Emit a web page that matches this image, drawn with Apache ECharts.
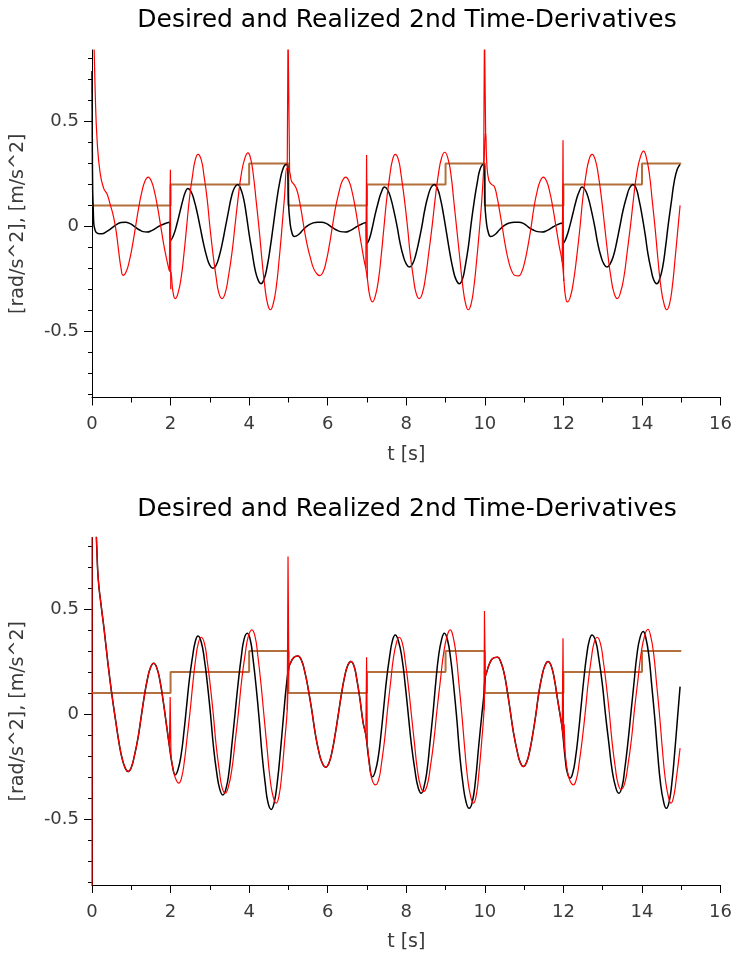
<!DOCTYPE html>
<html><head><meta charset="utf-8">
<script src="https://cdn.jsdelivr.net/npm/echarts@6/dist/echarts.min.js"></script>
<style>html,body{margin:0;padding:0;background:#fff}#c{width:735px;height:958px}</style>
</head><body><div id="c"></div>
<script>
const titleText = 'Desired and Realized 2nd Time-Derivatives';
const xName = 't [s]';
const yName = '[rad/s^2], [m/s^2]';
const xMin = 0, xMax = 16, xStep = 2;
const yMin = -0.815, yMax = 0.84;
const yMajorTicks = [-0.5, 0, 0.5];
const yMinorTicks = [-0.8,-0.7,-0.6,-0.4,-0.3,-0.2,-0.1,0.1,0.2,0.3,0.4,0.6,0.7,0.8];

// desired (step) values, held until next time
const desiredSteps = [[0,0.1],[2,0.2],[4,0.3],[5,0.1],[7,0.2],[9,0.3],[10,0.1],[12,0.2],[14,0.3],[15,0.3]];

// ---- top chart ----
const topBlack = [[0.01,0.3],[0.04,0.03],[0.08,-0.02],[0.15,-0.034],[0.25,-0.035],[0.37,-0.025],[0.5,-0.008],[0.62,0.008],[0.74,0.018],[0.85,0.02],[0.97,0.013],[1.09,-0.002],[1.2,-0.016],[1.3,-0.025],[1.4,-0.027],[1.52,-0.02],[1.64,-0.007],[1.76,0.006],[1.88,0.015],[1.97,0.02],
[2.0,-0.067],[2.08,-0.04],[2.16,0.01],[2.24,0.07],[2.32,0.13],[2.38,0.165],[2.44,0.18],[2.52,0.166],[2.6,0.124],[2.68,0.063],[2.76,-0.01],[2.84,-0.083],[2.92,-0.144],[3.0,-0.186],[3.08,-0.2],[3.16,-0.185],[3.24,-0.141],[3.32,-0.077],[3.4,0],[3.48,0.077],[3.55,0.141],[3.63,0.185],[3.71,0.2],[3.78,0.182],[3.86,0.131],[3.93,0.054],[4.0,-0.037],[4.08,-0.128],[4.15,-0.205],[4.23,-0.256],[4.3,-0.273],[4.38,-0.251],[4.46,-0.19],[4.54,-0.098],[4.62,0.011],[4.7,0.12],[4.78,0.212],[4.86,0.273],[4.94,0.295],[4.98,0.29],
[5.0,0.12],[5.04,0.02],[5.09,-0.03],[5.15,-0.048],[5.25,-0.04],[5.38,-0.015],[5.5,0.005],[5.62,0.016],[5.74,0.02],[5.85,0.02],[5.97,0.013],[6.09,-0.002],[6.21,-0.016],[6.33,-0.025],[6.45,-0.027],[6.57,-0.02],[6.69,-0.007],[6.81,0.006],[6.97,0.018],
[7.0,-0.08],[7.06,-0.06],[7.13,-0.01],[7.2,0.05],[7.28,0.11],[7.36,0.16],[7.45,0.187],[7.53,0.172],[7.61,0.131],[7.69,0.069],[7.77,-0.004],[7.84,-0.077],[7.92,-0.139],[8.0,-0.179],[8.08,-0.194],[8.16,-0.179],[8.24,-0.136],[8.32,-0.072],[8.4,0.003],[8.47,0.078],[8.55,0.142],[8.63,0.185],[8.71,0.2],[8.79,0.182],[8.87,0.131],[8.95,0.054],[9.03,-0.037],[9.11,-0.128],[9.19,-0.204],[9.27,-0.255],[9.35,-0.273],[9.43,-0.251],[9.5,-0.19],[9.58,-0.098],[9.65,0.011],[9.73,0.12],[9.81,0.212],[9.88,0.273],[9.96,0.295],[9.99,0.29],
[10.0,0.12],[10.04,0.02],[10.09,-0.03],[10.15,-0.048],[10.25,-0.04],[10.38,-0.015],[10.5,0.005],[10.62,0.016],[10.75,0.02],[10.87,0.02],[10.99,0.013],[11.1,-0.002],[11.22,-0.016],[11.34,-0.025],[11.46,-0.027],[11.58,-0.02],[11.7,-0.007],[11.82,0.006],[11.97,0.016],
[12.0,-0.08],[12.08,-0.05],[12.16,0.0],[12.24,0.06],[12.32,0.12],[12.4,0.165],[12.48,0.187],[12.56,0.172],[12.64,0.131],[12.72,0.069],[12.8,-0.004],[12.87,-0.077],[12.95,-0.139],[13.03,-0.179],[13.11,-0.194],[13.19,-0.179],[13.28,-0.136],[13.36,-0.072],[13.44,0.003],[13.52,0.078],[13.61,0.142],[13.69,0.185],[13.77,0.2],[13.85,0.182],[13.92,0.131],[14.0,0.054],[14.08,-0.037],[14.15,-0.128],[14.23,-0.204],[14.3,-0.255],[14.38,-0.273],[14.45,-0.251],[14.53,-0.19],[14.6,-0.098],[14.67,0.011],[14.75,0.12],[14.82,0.212],[14.9,0.273],[14.97,0.295]];
const topBlackSpikes = [[[0,0.74],[0.01,0.3]]];

const topRed = [[0.04,0.95],[0.08,0.65],[0.13,0.41],[0.21,0.25],[0.3,0.18],[0.38,0.155],[0.47,0.1],[0.55,0.044],[0.62,-0.03],[0.68,-0.12],[0.74,-0.2],[0.79,-0.233],[0.87,-0.216],[0.95,-0.165],[1.03,-0.09],[1.11,0],[1.19,0.09],[1.27,0.165],[1.35,0.216],[1.43,0.235],[1.51,0.216],[1.59,0.165],[1.67,0.09],[1.75,0],[1.83,-0.09],[1.91,-0.165],[1.97,-0.21],
[2.01,-0.22],[2.06,-0.31],[2.12,-0.344],[2.19,-0.318],[2.27,-0.243],[2.34,-0.132],[2.41,0],[2.48,0.132],[2.56,0.243],[2.63,0.318],[2.7,0.343],[2.78,0.318],[2.85,0.243],[2.93,0.132],[3.0,0],[3.08,-0.132],[3.16,-0.243],[3.23,-0.318],[3.31,-0.344],[3.39,-0.318],[3.47,-0.242],[3.56,-0.13],[3.64,0.003],[3.72,0.136],[3.8,0.248],[3.89,0.324],[3.97,0.35],[4.04,0.321],[4.11,0.24],[4.18,0.119],[4.26,-0.024],[4.33,-0.166],[4.4,-0.287],[4.47,-0.369],[4.54,-0.397],[4.61,-0.371],[4.69,-0.289],[4.76,-0.165],[4.83,-0.02],[4.9,0.14],[4.97,0.28],
[5.03,0.26],[5.08,0.215],[5.14,0.2],[5.2,0.18],[5.26,0.14],[5.33,0.07],[5.4,-0.01],[5.48,-0.09],[5.56,-0.15],[5.64,-0.2],[5.72,-0.225],[5.8,-0.235],[5.88,-0.218],[5.96,-0.168],[6.04,-0.092],[6.12,0],[6.2,0.09],[6.29,0.165],[6.37,0.216],[6.46,0.235],[6.54,0.216],[6.62,0.165],[6.7,0.09],[6.78,0],[6.86,-0.09],[6.93,-0.165],[6.97,-0.2],
[7.01,-0.25],[7.07,-0.33],[7.14,-0.36],[7.21,-0.333],[7.29,-0.257],[7.36,-0.143],[7.43,-0.008],[7.5,0.127],[7.58,0.241],[7.65,0.317],[7.72,0.343],[7.8,0.318],[7.87,0.243],[7.95,0.132],[8.03,0],[8.1,-0.132],[8.18,-0.243],[8.25,-0.318],[8.33,-0.344],[8.41,-0.318],[8.49,-0.242],[8.57,-0.129],[8.66,0.005],[8.74,0.138],[8.82,0.251],[8.9,0.327],[8.98,0.353],[9.06,0.324],[9.14,0.243],[9.21,0.121],[9.29,-0.022],[9.37,-0.165],[9.44,-0.287],[9.51,-0.368],[9.58,-0.397],[9.65,-0.37],[9.72,-0.29],[9.79,-0.165],[9.86,-0.02],[9.92,0.12],[9.97,0.27],
[10.02,0.45],[10.05,0.3],[10.1,0.22],[10.17,0.2],[10.24,0.19],[10.3,0.15],[10.37,0.08],[10.45,-0.01],[10.53,-0.1],[10.61,-0.17],[10.69,-0.215],[10.77,-0.234],[10.86,-0.236],[10.94,-0.216],[11.02,-0.165],[11.1,-0.09],[11.18,0],[11.25,0.09],[11.33,0.165],[11.41,0.216],[11.49,0.235],[11.57,0.216],[11.65,0.165],[11.73,0.09],[11.81,0],[11.89,-0.09],[11.97,-0.17],
[12.01,-0.25],[12.05,-0.33],[12.1,-0.36],[12.18,-0.333],[12.26,-0.257],[12.34,-0.143],[12.42,-0.008],[12.49,0.127],[12.57,0.24],[12.65,0.316],[12.73,0.343],[12.81,0.318],[12.89,0.243],[12.97,0.132],[13.05,0],[13.13,-0.132],[13.21,-0.243],[13.29,-0.318],[13.37,-0.344],[13.45,-0.317],[13.54,-0.241],[13.62,-0.127],[13.71,0.007],[13.79,0.141],[13.87,0.255],[13.96,0.331],[14.04,0.358],[14.11,0.329],[14.19,0.247],[14.26,0.125],[14.34,-0.02],[14.41,-0.164],[14.48,-0.286],[14.56,-0.368],[14.63,-0.397],[14.7,-0.37],[14.77,-0.29],[14.84,-0.16],[14.91,-0.02],[14.97,0.1]];
const topRedSpikes = [
  [[1.97,-0.21],[1.995,0.27],[2.005,-0.3],[2.01,-0.22]],
  [[4.97,0.28],[4.99,0.95],[5.01,0.95],[5.03,0.26]],
  [[6.97,-0.2],[6.99,0.34],[7.01,-0.25]],
  [[9.97,0.27],[9.99,0.95],[10.01,0.95],[10.02,0.45]],
  [[11.97,-0.17],[11.99,0.41],[12.005,-0.26],[12.01,-0.25]]
];

// ---- bottom chart ----
const bottomBlack = [[0.09,0.95],[0.12,0.8],[0.16,0.64],[0.23,0.52],[0.31,0.4],[0.4,0.25],[0.5,0.1],[0.6,-0.03],[0.69,-0.14],[0.77,-0.215],[0.85,-0.26],[0.92,-0.275],[1.0,-0.255],[1.08,-0.199],[1.17,-0.116],[1.25,-0.017],[1.33,0.082],[1.41,0.165],[1.49,0.221],[1.57,0.241],[1.65,0.219],[1.73,0.157],[1.81,0.064],[1.89,-0.045],[1.97,-0.154],
[2.05,-0.25],[2.12,-0.29],[2.19,-0.265],[2.27,-0.193],[2.34,-0.086],[2.41,0.04],[2.48,0.166],[2.56,0.273],[2.63,0.345],[2.7,0.371],[2.78,0.342],[2.86,0.26],[2.94,0.138],[3.02,-0.008],[3.09,-0.152],[3.17,-0.274],[3.25,-0.357],[3.33,-0.386],[3.41,-0.357],[3.49,-0.273],[3.56,-0.148],[3.64,-0.001],[3.72,0.146],[3.8,0.271],[3.87,0.355],[3.95,0.384],[4.03,0.352],[4.1,0.261],[4.18,0.125],[4.26,-0.036],[4.33,-0.196],[4.41,-0.332],[4.48,-0.423],[4.56,-0.455],[4.64,-0.42],[4.72,-0.32],[4.8,-0.17],[4.88,0],[4.95,0.14],[5.01,0.22],
[5.06,0.245],[5.12,0.265],[5.18,0.274],[5.24,0.276],[5.33,0.256],[5.42,0.198],[5.51,0.112],[5.6,0.011],[5.68,-0.09],[5.77,-0.176],[5.86,-0.234],[5.95,-0.254],[6.03,-0.235],[6.11,-0.18],[6.19,-0.098],[6.27,-0.002],[6.35,0.094],[6.43,0.176],[6.51,0.231],[6.59,0.25],[6.67,0.228],[6.74,0.165],[6.82,0.071],[6.9,-0.04],[6.97,-0.1],
[7.05,-0.22],[7.14,-0.3],[7.21,-0.274],[7.29,-0.201],[7.36,-0.091],[7.43,0.038],[7.5,0.167],[7.58,0.277],[7.65,0.35],[7.72,0.376],[7.8,0.347],[7.89,0.266],[7.97,0.143],[8.05,-0.001],[8.13,-0.145],[8.22,-0.268],[8.3,-0.349],[8.38,-0.378],[8.45,-0.349],[8.53,-0.267],[8.6,-0.143],[8.68,0.003],[8.75,0.149],[8.82,0.272],[8.9,0.355],[8.97,0.384],[9.05,0.352],[9.13,0.262],[9.21,0.127],[9.29,-0.033],[9.36,-0.193],[9.44,-0.328],[9.52,-0.418],[9.6,-0.45],[9.68,-0.42],[9.76,-0.32],[9.84,-0.16],[9.92,-0.01],[9.97,0.08],[10.01,0.175],
[10.05,0.2],[10.1,0.23],[10.17,0.258],[10.24,0.268],[10.32,0.27],[10.4,0.25],[10.49,0.194],[10.57,0.109],[10.65,0.01],[10.73,-0.09],[10.82,-0.175],[10.9,-0.231],[10.98,-0.251],[11.06,-0.232],[11.14,-0.178],[11.22,-0.097],[11.3,-0.001],[11.37,0.095],[11.45,0.176],[11.53,0.23],[11.61,0.249],[11.69,0.228],[11.77,0.165],[11.85,0.07],[11.92,-0.01],[11.97,-0.07],
[12.05,-0.22],[12.1,-0.28],[12.17,-0.306],[12.24,-0.28],[12.31,-0.206],[12.38,-0.096],[12.45,0.035],[12.52,0.166],[12.59,0.276],[12.66,0.35],[12.73,0.376],[12.82,0.347],[12.9,0.266],[12.99,0.143],[13.07,-0.001],[13.16,-0.145],[13.24,-0.268],[13.33,-0.349],[13.41,-0.378],[13.49,-0.349],[13.56,-0.265],[13.64,-0.14],[13.72,0.007],[13.8,0.154],[13.87,0.279],[13.95,0.363],[14.03,0.392],[14.1,0.36],[14.18,0.269],[14.25,0.132],[14.33,-0.029],[14.4,-0.19],[14.47,-0.327],[14.55,-0.418],[14.62,-0.45],[14.69,-0.42],[14.76,-0.33],[14.83,-0.19],[14.9,-0.03],[14.97,0.13]];

const bottomRed = [[0.09,0.95],[0.12,0.8],[0.16,0.64],[0.23,0.52],[0.31,0.4],[0.4,0.25],[0.5,0.1],[0.6,-0.03],[0.69,-0.14],[0.77,-0.215],[0.85,-0.26],[0.92,-0.275],[1.0,-0.255],[1.08,-0.199],[1.17,-0.116],[1.25,-0.017],[1.33,0.082],[1.41,0.165],[1.49,0.221],[1.57,0.241],[1.65,0.219],[1.73,0.157],[1.81,0.064],[1.89,-0.045],[1.97,-0.15],
[2.01,-0.2],[2.06,-0.26],[2.13,-0.309],[2.21,-0.33],[2.28,-0.304],[2.35,-0.228],[2.42,-0.115],[2.5,0.018],[2.57,0.15],[2.64,0.263],[2.71,0.339],[2.78,0.365],[2.86,0.337],[2.93,0.256],[3.01,0.136],[3.09,-0.007],[3.16,-0.149],[3.24,-0.269],[3.31,-0.35],[3.39,-0.378],[3.47,-0.348],[3.56,-0.264],[3.64,-0.138],[3.73,0.011],[3.81,0.16],[3.9,0.286],[3.98,0.37],[4.07,0.4],[4.15,0.369],[4.22,0.279],[4.3,0.145],[4.38,-0.013],[4.46,-0.17],[4.53,-0.304],[4.61,-0.394],[4.69,-0.425],[4.76,-0.39],[4.83,-0.29],[4.9,-0.14],[4.97,0.02],
[5.01,0.22],[5.06,0.245],[5.12,0.265],[5.18,0.274],[5.24,0.276],[5.33,0.256],[5.42,0.198],[5.51,0.112],[5.6,0.011],[5.68,-0.09],[5.77,-0.176],[5.86,-0.234],[5.95,-0.254],[6.03,-0.235],[6.11,-0.18],[6.19,-0.098],[6.27,-0.002],[6.35,0.094],[6.43,0.176],[6.51,0.231],[6.59,0.25],[6.67,0.228],[6.74,0.165],[6.82,0.071],[6.9,-0.04],[6.97,-0.1],
[7.01,-0.15],[7.08,-0.27],[7.15,-0.325],[7.22,-0.338],[7.3,-0.311],[7.37,-0.235],[7.45,-0.121],[7.52,0.014],[7.6,0.148],[7.67,0.262],[7.75,0.338],[7.82,0.365],[7.9,0.337],[7.97,0.257],[8.05,0.138],[8.13,-0.003],[8.21,-0.143],[8.28,-0.262],[8.36,-0.342],[8.44,-0.37],[8.53,-0.341],[8.61,-0.257],[8.7,-0.132],[8.78,0.015],[8.87,0.162],[8.95,0.287],[9.04,0.371],[9.12,0.4],[9.19,0.369],[9.27,0.279],[9.34,0.145],[9.42,-0.013],[9.49,-0.17],[9.56,-0.304],[9.64,-0.394],[9.71,-0.425],[9.78,-0.39],[9.85,-0.28],[9.92,-0.13],[9.98,0.02],
[10.01,0.175],[10.05,0.2],[10.1,0.23],[10.17,0.258],[10.24,0.268],[10.32,0.27],[10.4,0.25],[10.49,0.194],[10.57,0.109],[10.65,0.01],[10.73,-0.09],[10.82,-0.175],[10.9,-0.231],[10.98,-0.251],[11.06,-0.232],[11.14,-0.178],[11.22,-0.097],[11.3,-0.001],[11.37,0.095],[11.45,0.176],[11.53,0.23],[11.61,0.249],[11.69,0.228],[11.77,0.165],[11.85,0.07],[11.92,-0.01],[11.97,-0.07],
[12.04,-0.18],[12.1,-0.27],[12.17,-0.32],[12.25,-0.338],[12.33,-0.311],[12.4,-0.235],[12.48,-0.121],[12.56,0.014],[12.63,0.148],[12.71,0.262],[12.78,0.338],[12.86,0.365],[12.94,0.337],[13.01,0.259],[13.09,0.141],[13.17,0.003],[13.24,-0.136],[13.32,-0.254],[13.39,-0.332],[13.47,-0.36],[13.56,-0.331],[13.64,-0.248],[13.73,-0.124],[13.81,0.022],[13.9,0.167],[13.98,0.291],[14.07,0.374],[14.15,0.403],[14.22,0.371],[14.3,0.282],[14.37,0.147],[14.45,-0.011],[14.52,-0.17],[14.59,-0.304],[14.67,-0.393],[14.74,-0.425],[14.81,-0.39],[14.88,-0.3],[14.97,-0.163]];
const bottomRedSpikes = [
  [[0,-0.95],[0,0.95]],
  [[1.97,-0.15],[1.99,0.08],[2.01,-0.2]],
  [[4.97,0.02],[4.99,0.75],[5.01,0.22]],
  [[6.97,-0.1],[6.99,0.27],[7.01,-0.15]],
  [[9.98,0.02],[9.99,0.49],[10.01,0.175]],
  [[11.97,-0.07],[11.99,0.36],[12.005,-0.12],[12.02,-0.05],[12.04,-0.18]]
];

const FONT = '"DejaVu Sans"';
const C_RED = '#ff0000', C_BLACK = '#000000', C_BROWN = '#b4703c', C_TXT = '#3a3a3a';
const plotLeft = 92, plotWidth = 630, plotHeight = 347.5;
const gridTops = [50, 537.5];
const titleYs = [20, 509];

const chart = echarts.init(document.getElementById('c'), null, {renderer: 'canvas'});

const grids = gridTops.map(t => ({left: plotLeft, width: plotWidth, top: t, height: plotHeight}));
const xAxes = gridTops.map((t, i) => ({
  type: 'value', gridIndex: i, min: xMin, max: xMax, interval: xStep,
  name: xName, nameLocation: 'middle', nameGap: 48,
  nameTextStyle: {fontFamily: FONT, fontSize: 19, color: C_TXT},
  axisLine: {onZero: false, lineStyle: {color: '#000', width: 1}},
  axisTick: {length: 8, lineStyle: {color: '#000', width: 1}},
  minorTick: {show: true, splitNumber: 2, length: 5, lineStyle: {color: '#000', width: 1}},
  axisLabel: {margin: 18, fontFamily: FONT, fontSize: 18, color: C_TXT},
  splitLine: {show: false}, minorSplitLine: {show: false}
}));
const yAxes = [];
gridTops.forEach((t, i) => {
  yAxes.push({
    type: 'value', gridIndex: i, min: yMin, max: yMax, position: 'left',
    name: yName, nameLocation: 'middle', nameGap: 64,
    nameTextStyle: {fontFamily: FONT, fontSize: 19, color: C_TXT},
    axisLine: {onZero: false, show: true, lineStyle: {color: '#000', width: 1}},
    axisTick: {show: true, length: 8, customValues: yMajorTicks, lineStyle: {color: '#000', width: 1}},
    axisLabel: {margin: 13, fontFamily: FONT, fontSize: 18, color: C_TXT, customValues: yMajorTicks},
    splitLine: {show: false}
  });
  yAxes.push({
    type: 'value', gridIndex: i, min: yMin, max: yMax, position: 'left',
    axisLine: {show: false, onZero: false},
    axisTick: {show: true, length: 4, customValues: yMinorTicks, lineStyle: {color: '#000', width: 1}},
    axisLabel: {show: false},
    splitLine: {show: false}
  });
});

function line(data, gi, color, width, z, smooth, step) {
  return {
    type: 'line', data: data, xAxisIndex: gi, yAxisIndex: gi * 2,
    showSymbol: false, symbol: 'none', smooth: smooth ? 0.5 : false,
    step: step || false, clip: true, silent: true, z: z,
    lineStyle: {color: color, width: width}
  };
}

const series = [
  line(desiredSteps, 0, C_BROWN, 2, 2, false, 'end'),
  line(topBlack, 0, C_BLACK, 1.5, 3, true),
  ...topBlackSpikes.map(s => line(s, 0, C_BLACK, 1.5, 3, false)),
  line(topRed, 0, C_RED, 1.2, 4, true),
  ...topRedSpikes.map(s => line(s, 0, C_RED, 1.2, 4, false)),
  line(desiredSteps, 1, C_BROWN, 2, 2, false, 'end'),
  line(bottomBlack, 1, C_BLACK, 1.5, 3, true),
  line(bottomRed, 1, C_RED, 1.2, 4, true),
  ...bottomRedSpikes.map(s => line(s, 1, C_RED, 1.2, 4, false))
];

const graphics = titleYs.map(y => ({
  type: 'text', x: plotLeft + plotWidth / 2, y: y,
  style: {text: titleText, font: '25px "DejaVu Sans"', fill: '#000',
          align: 'center', verticalAlign: 'middle', textAlign: 'center', textVerticalAlign: 'middle'}
}));

chart.setOption({
  animation: false,
  backgroundColor: '#fff',
  grid: grids,
  xAxis: xAxes,
  yAxis: yAxes,
  series: series,
  graphic: graphics
});
</script>
</body></html>
